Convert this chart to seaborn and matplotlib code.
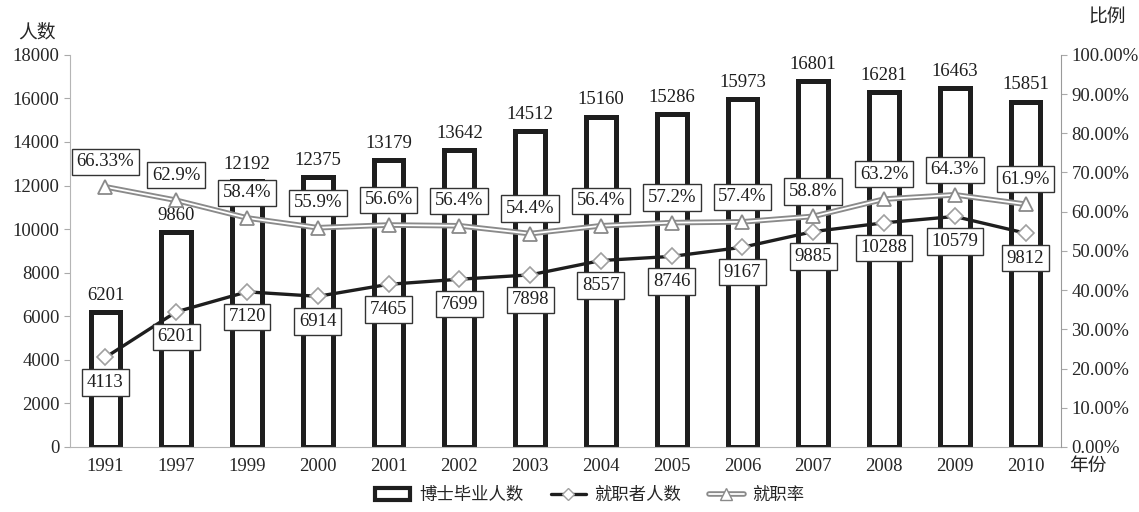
import matplotlib
matplotlib.use("Agg")
import matplotlib.pyplot as plt
import seaborn as sns
import pandas as pd
import numpy as np
from matplotlib.lines import Line2D
from matplotlib.patches import Rectangle
from matplotlib.legend_handler import HandlerTuple
from matplotlib.ticker import FuncFormatter

# data
years = ["1991", "1997", "1999", "2000", "2001", "2002", "2003",
         "2004", "2005", "2006", "2007", "2008", "2009", "2010"]
graduates = [6201, 9860, 12192, 12375, 13179, 13642, 14512,
             15160, 15286, 15973, 16801, 16281, 16463, 15851]
employed = [4113, 6201, 7120, 6914, 7465, 7699, 7898,
            8557, 8746, 9167, 9885, 10288, 10579, 9812]
rates = [66.33, 62.9, 58.4, 55.9, 56.6, 56.4, 54.4,
         56.4, 57.2, 57.4, 58.8, 63.2, 64.3, 61.9]

df = pd.DataFrame({"year": years, "graduates": graduates,
                   "employed": employed, "rate": rates})

sns.set_style("white")
plt.rcParams['font.family'] = ['Liberation Serif', 'Noto Sans CJK SC']

DARK = '#1e1e1e'
GREY = '#8a8a8a'
FS = 13.5

fig = plt.figure(figsize=(11.39, 5.12), dpi=100)
ax = fig.add_axes([0.0615, 0.127, 0.870, 0.766])

# bars: hollow with thick edges
sns.barplot(data=df, x='year', y='graduates', color='white', saturation=1,
            edgecolor=DARK, linewidth=3.6, width=0.42, ax=ax, zorder=2)

# employed line
sns.lineplot(data=df, x='year', y='employed', color=DARK, linewidth=2.4,
             marker='D', markersize=8, markerfacecolor='white',
             markeredgecolor='#a0a0a0', markeredgewidth=1.2, ax=ax, zorder=4)

ax.set_ylim(0, 18000)
ax.set_yticks(range(0, 18001, 2000))
ax.set_xlim(-0.5, 13.5)
ax.set_xlabel('')
ax.set_ylabel('')

# rate line (double line look) on right axis
ax2 = ax.twinx()
sns.lineplot(data=df, x='year', y='rate', color=GREY, linewidth=4.0, ax=ax2, zorder=3)
sns.lineplot(data=df, x='year', y='rate', color='white', linewidth=1.3,
             marker='^', markersize=10, markerfacecolor='white',
             markeredgecolor=GREY, markeredgewidth=1.3, ax=ax2, zorder=4)
ax2.set_ylim(0, 100)
ax2.set_yticks(range(0, 101, 10))
ax2.yaxis.set_major_formatter(FuncFormatter(lambda v, p: f'{v:.2f}%'))
ax2.set_ylabel('')
ax2.set_xlim(-0.5, 13.5)

# spines and ticks
for a in (ax, ax2):
    a.spines['top'].set_visible(False)
ax2.spines['left'].set_visible(False)
ax2.spines['bottom'].set_visible(False)
ax.spines['right'].set_visible(False)
ax.spines['left'].set_color('#b5b5b5')
ax.spines['bottom'].set_color('#b5b5b5')
ax2.spines['right'].set_color('#9a9a9a')

ax.tick_params(axis='x', which='major', length=0, labelsize=FS, pad=8)
ax.set_xticks(np.arange(-0.5, 14, 1), minor=True)
ax.tick_params(axis='x', which='minor', length=5, color='#aaaaaa', direction='out')
ax.tick_params(axis='y', length=4, color='#aaaaaa', labelsize=FS, left=True, direction='out')
ax2.tick_params(axis='y', length=4, color='#aaaaaa', labelsize=FS, right=True, direction='out')

box = dict(boxstyle='square,pad=0.25', facecolor='white', edgecolor='#333333', linewidth=1)

# labels
for i, (g, e, r) in enumerate(zip(graduates, employed, rates)):
    ax.annotate(f'{g}', (i, g), xytext=(0, 12), textcoords='offset points',
                ha='center', va='center', fontsize=FS, color=DARK, zorder=6)
    ax.annotate(f'{e}', (i, e), xytext=(0, -18), textcoords='offset points',
                ha='center', va='center', fontsize=FS, color=DARK, bbox=box, zorder=6)
    ax2.annotate(f'{r:g}%', (i, r), xytext=(0, 18), textcoords='offset points',
                 ha='center', va='center', fontsize=FS, color=DARK, bbox=box, zorder=6)

fig.text(0.032, 0.937, '人数', ha='center', va='center', fontsize=FS)
fig.text(0.972, 0.965, '比例', ha='center', va='center', fontsize=FS)
fig.text(0.955, 0.089, '年份', ha='center', va='center', fontsize=FS)

# legend
bar_h = Rectangle((0, 0), 1, 1, facecolor='white', edgecolor=DARK, linewidth=3)
emp_h = Line2D([], [], color=DARK, linewidth=2.4, marker='D', markersize=6,
               markerfacecolor='white', markeredgecolor='#a0a0a0')
rate_h = (Line2D([], [], color=GREY, linewidth=4.0),
          Line2D([], [], color='white', linewidth=1.3, marker='^', markersize=8,
                 markerfacecolor='white', markeredgecolor=GREY))
fig.legend([bar_h, emp_h, rate_h], ['博士毕业人数', '就职者人数', '就职率'],
           handler_map={tuple: HandlerTuple(ndivide=1)},
           loc='center', bbox_to_anchor=(0.518, 0.031), ncol=3, frameon=False,
           fontsize=12.5, handlelength=2.0, columnspacing=1.6, handletextpad=0.5)

plt.savefig('out.png', dpi=100)
